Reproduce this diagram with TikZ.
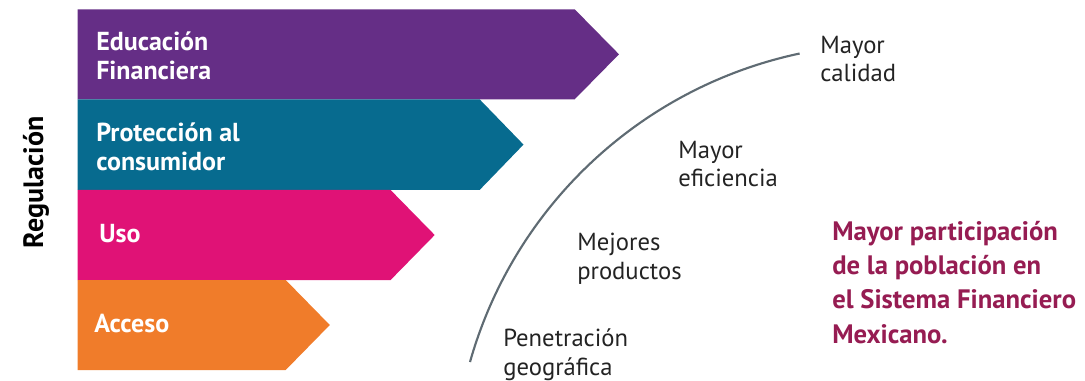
\documentclass[tikz,border=0pt]{standalone}
\usepackage{fontspec}
\setmainfont{PT Sans}
\usepackage{tikz}
\usetikzlibrary{positioning}
\definecolor{morado}{RGB}{101,46,134}
\definecolor{azul}{RGB}{7,107,143}
\definecolor{rosa}{RGB}{224,18,118}
\definecolor{naranja}{RGB}{240,124,42}
\definecolor{vino}{RGB}{150,28,82}
\definecolor{gris}{RGB}{95,107,115}
\definecolor{texto}{RGB}{35,35,35}

\begin{document}
\begin{tikzpicture}
[x=0.75pt, y=-0.75pt,
flecha/.style={draw=none},
etiqueta/.style={text=white, font=\bfseries\fontsize{19.5}{22}\selectfont, align=left, anchor=base west, inner sep=0pt},
logro/.style={text=texto, font=\fontsize{18.5}{21.3}\selectfont, align=left, anchor=base west, inner sep=0pt},
meta/.style={text=vino, font=\bfseries\fontsize{20}{25.7}\selectfont, align=left, anchor=base west, inner sep=0pt},]
\useasboundingbox (0,0) rectangle (1085,381);
% flechas
\fill[flecha,morado] (77.6,9.3) -- (574.7,9.3) -- (619,54.3) -- (574.7,99.3) -- (77.6,99.3) -- cycle;
\fill[flecha,azul] (77.6,99.3) -- (479.6,99.3) -- (523.5,144.6) -- (479.6,190) -- (77.6,190) -- cycle;
\fill[flecha,rosa] (77.6,190) -- (390.6,190) -- (434.7,235) -- (390.6,280) -- (77.6,280) -- cycle;
\fill[flecha,naranja] (77.6,280) -- (285.7,280) -- (329.8,325) -- (285.7,370) -- (77.6,370) -- cycle;
\node[etiqueta] (educacion) at (96,80) {Educación\\Financiera};
\node[etiqueta] (proteccion) at (96,170.7) {Protección al\\consumidor};
\node[etiqueta] (uso) at (99,242) {Uso};
\node[etiqueta] (acceso) at (94,332.7) {Acceso};
\node[rotate=90, anchor=base, font=\bfseries\fontsize{21}{24}\selectfont] (regulacion) at (43,182.5) {Regulación};
% curva
\draw[gris, line width=1.6pt] (470,362) arc[start angle=195.8, end angle=258, radius=437];
\node[logro] (calidad) at (820,82) {Mayor\\calidad};
\node[logro] (eficiencia) at (678,186.7) {Mayor\\eficiencia};
\node[logro] (productos) at (577,279) {Mejores\\productos};
\node[logro] (penetracion) at (503,375) {Penetración\\geográfica};
\node[meta] (participacion) at (832,343) {Mayor participación\\de la población en\\el Sistema Financiero\\Mexicano.};
\end{tikzpicture}
\end{document}
